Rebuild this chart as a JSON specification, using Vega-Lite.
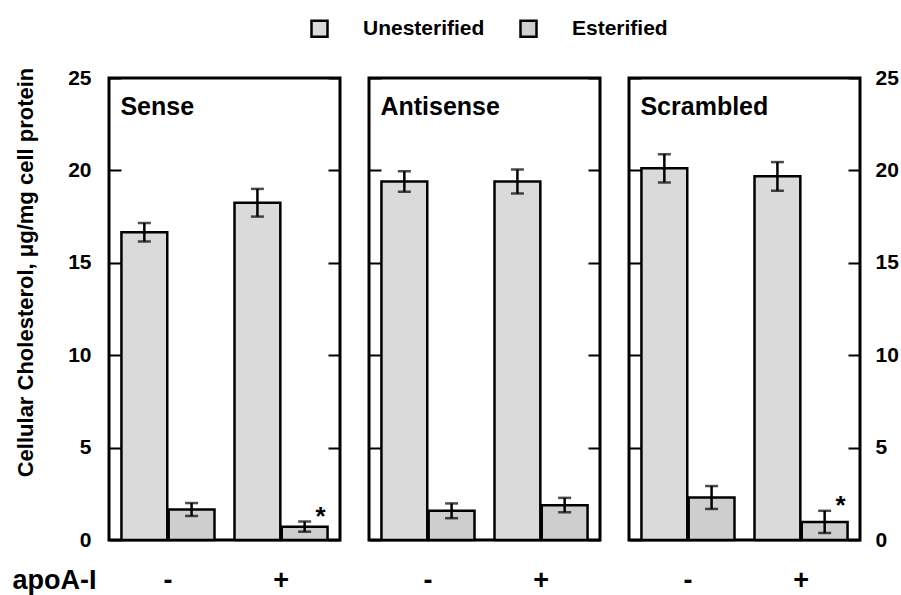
{
  "$schema": "https://vega.github.io/schema/vega-lite/v6.json",
  "background": "white",
  "padding": {"left": 10, "top": 18, "right": 2, "bottom": 2},
  "bounds": "flush",
  "data": {"values": [
    {"panel":"Sense","apoA":"-","type":"Unesterified","value":16.65,"lo":16.15,"hi":17.15,"star":""},
    {"panel":"Sense","apoA":"-","type":"Esterified","value":1.65,"lo":1.3,"hi":2.0,"star":""},
    {"panel":"Sense","apoA":"+","type":"Unesterified","value":18.25,"lo":17.5,"hi":19.0,"star":""},
    {"panel":"Sense","apoA":"+","type":"Esterified","value":0.72,"lo":0.45,"hi":1.0,"star":"*"},
    {"panel":"Antisense","apoA":"-","type":"Unesterified","value":19.4,"lo":18.85,"hi":19.95,"star":""},
    {"panel":"Antisense","apoA":"-","type":"Esterified","value":1.58,"lo":1.18,"hi":1.98,"star":""},
    {"panel":"Antisense","apoA":"+","type":"Unesterified","value":19.4,"lo":18.75,"hi":20.05,"star":""},
    {"panel":"Antisense","apoA":"+","type":"Esterified","value":1.88,"lo":1.5,"hi":2.28,"star":""},
    {"panel":"Scrambled","apoA":"-","type":"Unesterified","value":20.12,"lo":19.35,"hi":20.88,"star":""},
    {"panel":"Scrambled","apoA":"-","type":"Esterified","value":2.3,"lo":1.68,"hi":2.92,"star":""},
    {"panel":"Scrambled","apoA":"+","type":"Unesterified","value":19.68,"lo":18.9,"hi":20.45,"star":""},
    {"panel":"Scrambled","apoA":"+","type":"Esterified","value":0.98,"lo":0.38,"hi":1.58,"star":"*"}
  ]},
  "spacing": 29,
  "resolve": {"scale": {"fill": "shared"}, "legend": {"fill": "shared"}},
  "hconcat": [
    {
      "width": 231, "height": 462,
      "transform": [{"filter": "datum.panel === 'Sense'"}],
      "encoding": {
        "x": {"field": "apoA", "type": "nominal", "sort": ["-", "+"],
              "scale": {"paddingInner": 0.177, "paddingOuter": 0.11},
              "axis": {"title": "apoA-I", "titleAngle": 0, "titleX": -97, "titleY": 40, "titleAlign": "left", "titleBaseline": "middle",
                       "titleFontSize": 27, "titleFontWeight": "bold", "titleColor": "black",
                       "labelAngle": 0, "labelFontSize": 27, "labelFontWeight": "bold", "labelColor": "black",
                       "labelPadding": 40, "labelBaseline": "middle", "ticks": false, "domain": false}}
      },
      "layer": [
        {"mark": {"type": "bar", "stroke": "black", "strokeWidth": 2.5},
         "encoding": {
           "xOffset": {"field": "type", "sort": ["Unesterified", "Esterified"], "scale": {"paddingInner": 0.03}},
           "y": {"field": "value", "type": "quantitative", "scale": {"domain": [0, 25], "nice": false},
                 "axis": {"orient": "right", "offset": -231, "values": [0,5,10,15,20,25], "title": null, "labels": false,
                          "tickSize": 12, "tickWidth": 2, "tickColor": "black", "domain": false, "grid": false}},
           "fill": {"field": "type", "type": "nominal", "sort": ["Unesterified", "Esterified"],
                    "scale": {"range": ["#dadada", "#cecece"]},
                    "legend": {"orient": "none", "legendX": 200, "legendY": -60, "direction": "horizontal", "title": null,
                               "symbolType": "square", "symbolSize": 256, "symbolStrokeColor": "black", "symbolStrokeWidth": 2.5,
                               "labelFontSize": 21, "labelFontWeight": "bold", "labelColor": "black", "labelOffset": 33, "columnPadding": 30}}
         }},
        {"mark": {"type": "rule", "strokeWidth": 2.5, "color": "black"},
         "encoding": {
           "xOffset": {"field": "type", "sort": ["Unesterified", "Esterified"], "scale": {"paddingInner": 0.03}},
           "y": {"field": "lo", "type": "quantitative",
                 "axis": {"orient": "left", "offset": -231, "values": [0,5,10,15,20,25], "title": null, "labels": false,
                          "tickSize": 12, "tickWidth": 2, "tickColor": "black", "domain": false, "grid": false}},
           "y2": {"field": "hi"}
         }},
        {"mark": {"type": "tick", "thickness": 2.5, "size": 13, "color": "black"},
         "encoding": {
           "xOffset": {"field": "type", "sort": ["Unesterified", "Esterified"], "scale": {"paddingInner": 0.03}},
           "y": {"field": "lo", "type": "quantitative",
                 "axis": {"orient": "left", "values": [0,5,10,15,20,25], "title": "Cellular Cholesterol, μg/mg cell protein",
                          "ticks": false, "domain": false, "grid": false,
                          "labelFontSize": 21, "labelFontWeight": "bold", "labelColor": "black", "labelPadding": 18,
                          "titleFontSize": 22, "titleFontWeight": "bold", "titleColor": "black", "titlePadding": 30, "titleY": 194}}}},
        {"mark": {"type": "tick", "thickness": 2.5, "size": 13, "color": "black"},
         "encoding": {
           "xOffset": {"field": "type", "sort": ["Unesterified", "Esterified"], "scale": {"paddingInner": 0.03}},
           "y": {"field": "hi", "type": "quantitative", "axis": null}}},
        {"transform": [{"filter": "datum.star !== ''"}],
         "mark": {"type": "text", "fontSize": 26, "fontWeight": "bold", "color": "black", "dx": 16, "dy": -5, "baseline": "middle"},
         "encoding": {
           "xOffset": {"field": "type", "sort": ["Unesterified", "Esterified"], "scale": {"paddingInner": 0.03}},
           "y": {"field": "hi", "type": "quantitative", "axis": null},
           "text": {"field": "star"}}},
        {"transform": [{"filter": "datum.apoA === '-' && datum.type === 'Unesterified'"}],
         "mark": {"type": "text", "fontSize": 25, "fontWeight": "bold", "color": "black", "align": "left", "baseline": "alphabetic", "dx": -1},
         "encoding": {
           "x": {"field": "apoA", "type": "nominal", "bandPosition": 0},
           "y": {"datum": 23, "type": "quantitative", "axis": null},
           "text": {"field": "panel"}}}
      ],
      "resolve": {"axis": {"y": "independent"}}
    },
    {
      "width": 231, "height": 462,
      "transform": [{"filter": "datum.panel === 'Antisense'"}],
      "encoding": {
        "x": {"field": "apoA", "type": "nominal", "sort": ["-", "+"],
              "scale": {"paddingInner": 0.177, "paddingOuter": 0.11},
              "axis": {"title": null,
                       "labelAngle": 0, "labelFontSize": 27, "labelFontWeight": "bold", "labelColor": "black",
                       "labelPadding": 40, "labelBaseline": "middle", "ticks": false, "domain": false}}
      },
      "layer": [
        {"mark": {"type": "bar", "stroke": "black", "strokeWidth": 2.5},
         "encoding": {
           "xOffset": {"field": "type", "sort": ["Unesterified", "Esterified"], "scale": {"paddingInner": 0.03}},
           "y": {"field": "value", "type": "quantitative", "scale": {"domain": [0, 25], "nice": false},
                 "axis": {"orient": "right", "offset": -231, "values": [0,5,10,15,20,25], "title": null, "labels": false,
                          "tickSize": 12, "tickWidth": 2, "tickColor": "black", "domain": false, "grid": false}},
           "fill": {"field": "type", "type": "nominal", "sort": ["Unesterified", "Esterified"],
                    "scale": {"range": ["#dadada", "#cecece"]},
                    "legend": {"orient": "none", "legendX": 200, "legendY": -60, "direction": "horizontal", "title": null,
                               "symbolType": "square", "symbolSize": 256, "symbolStrokeColor": "black", "symbolStrokeWidth": 2.5,
                               "labelFontSize": 21, "labelFontWeight": "bold", "labelColor": "black", "labelOffset": 33, "columnPadding": 30}}
         }},
        {"mark": {"type": "rule", "strokeWidth": 2.5, "color": "black"},
         "encoding": {
           "xOffset": {"field": "type", "sort": ["Unesterified", "Esterified"], "scale": {"paddingInner": 0.03}},
           "y": {"field": "lo", "type": "quantitative",
                 "axis": {"orient": "left", "offset": -231, "values": [0,5,10,15,20,25], "title": null, "labels": false,
                          "tickSize": 12, "tickWidth": 2, "tickColor": "black", "domain": false, "grid": false}},
           "y2": {"field": "hi"}
         }},
        {"mark": {"type": "tick", "thickness": 2.5, "size": 13, "color": "black"},
         "encoding": {
           "xOffset": {"field": "type", "sort": ["Unesterified", "Esterified"], "scale": {"paddingInner": 0.03}},
           "y": {"field": "lo", "type": "quantitative", "axis": null}}},
        {"mark": {"type": "tick", "thickness": 2.5, "size": 13, "color": "black"},
         "encoding": {
           "xOffset": {"field": "type", "sort": ["Unesterified", "Esterified"], "scale": {"paddingInner": 0.03}},
           "y": {"field": "hi", "type": "quantitative", "axis": null}}},
        {"transform": [{"filter": "datum.apoA === '-' && datum.type === 'Unesterified'"}],
         "mark": {"type": "text", "fontSize": 25, "fontWeight": "bold", "color": "black", "align": "left", "baseline": "alphabetic", "dx": -1},
         "encoding": {
           "x": {"field": "apoA", "type": "nominal", "bandPosition": 0},
           "y": {"datum": 23, "type": "quantitative", "axis": null},
           "text": {"field": "panel"}}}
      ],
      "resolve": {"axis": {"y": "independent"}}
    },
    {
      "width": 231, "height": 462,
      "transform": [{"filter": "datum.panel === 'Scrambled'"}],
      "encoding": {
        "x": {"field": "apoA", "type": "nominal", "sort": ["-", "+"],
              "scale": {"paddingInner": 0.177, "paddingOuter": 0.11},
              "axis": {"title": null,
                       "labelAngle": 0, "labelFontSize": 27, "labelFontWeight": "bold", "labelColor": "black",
                       "labelPadding": 40, "labelBaseline": "middle", "ticks": false, "domain": false}}
      },
      "layer": [
        {"mark": {"type": "bar", "stroke": "black", "strokeWidth": 2.5},
         "encoding": {
           "xOffset": {"field": "type", "sort": ["Unesterified", "Esterified"], "scale": {"paddingInner": 0.03}},
           "y": {"field": "value", "type": "quantitative", "scale": {"domain": [0, 25], "nice": false},
                 "axis": {"orient": "right", "offset": -231, "values": [0,5,10,15,20,25], "title": null, "labels": false,
                          "tickSize": 12, "tickWidth": 2, "tickColor": "black", "domain": false, "grid": false}},
           "fill": {"field": "type", "type": "nominal", "sort": ["Unesterified", "Esterified"],
                    "scale": {"range": ["#dadada", "#cecece"]},
                    "legend": {"orient": "none", "legendX": 200, "legendY": -60, "direction": "horizontal", "title": null,
                               "symbolType": "square", "symbolSize": 256, "symbolStrokeColor": "black", "symbolStrokeWidth": 2.5,
                               "labelFontSize": 21, "labelFontWeight": "bold", "labelColor": "black", "labelOffset": 33, "columnPadding": 30}}
         }},
        {"mark": {"type": "rule", "strokeWidth": 2.5, "color": "black"},
         "encoding": {
           "xOffset": {"field": "type", "sort": ["Unesterified", "Esterified"], "scale": {"paddingInner": 0.03}},
           "y": {"field": "lo", "type": "quantitative",
                 "axis": {"orient": "left", "offset": -231, "values": [0,5,10,15,20,25], "title": null, "labels": false,
                          "tickSize": 12, "tickWidth": 2, "tickColor": "black", "domain": false, "grid": false}},
           "y2": {"field": "hi"}
         }},
        {"mark": {"type": "tick", "thickness": 2.5, "size": 13, "color": "black"},
         "encoding": {
           "xOffset": {"field": "type", "sort": ["Unesterified", "Esterified"], "scale": {"paddingInner": 0.03}},
           "y": {"field": "lo", "type": "quantitative",
                 "axis": {"orient": "right", "values": [0,5,10,15,20,25], "title": null,
                          "ticks": false, "domain": false, "grid": false,
                          "labelFontSize": 21, "labelFontWeight": "bold", "labelColor": "black", "labelPadding": 15}}}},
        {"mark": {"type": "tick", "thickness": 2.5, "size": 13, "color": "black"},
         "encoding": {
           "xOffset": {"field": "type", "sort": ["Unesterified", "Esterified"], "scale": {"paddingInner": 0.03}},
           "y": {"field": "hi", "type": "quantitative", "axis": null}}},
        {"transform": [{"filter": "datum.star !== ''"}],
         "mark": {"type": "text", "fontSize": 26, "fontWeight": "bold", "color": "black", "dx": 16, "dy": -5, "baseline": "middle"},
         "encoding": {
           "xOffset": {"field": "type", "sort": ["Unesterified", "Esterified"], "scale": {"paddingInner": 0.03}},
           "y": {"field": "hi", "type": "quantitative", "axis": null},
           "text": {"field": "star"}}},
        {"transform": [{"filter": "datum.apoA === '-' && datum.type === 'Unesterified'"}],
         "mark": {"type": "text", "fontSize": 25, "fontWeight": "bold", "color": "black", "align": "left", "baseline": "alphabetic", "dx": -1},
         "encoding": {
           "x": {"field": "apoA", "type": "nominal", "bandPosition": 0},
           "y": {"datum": 23, "type": "quantitative", "axis": null},
           "text": {"field": "panel"}}}
      ],
      "resolve": {"axis": {"y": "independent"}}
    }
  ],
  "config": {
    "font": "Liberation Sans",
    "view": {"stroke": "black", "strokeWidth": 3},
    "axis": {"labelFont": "Liberation Sans", "titleFont": "Liberation Sans"},
    "legend": {"labelFont": "Liberation Sans"}
  }
}
